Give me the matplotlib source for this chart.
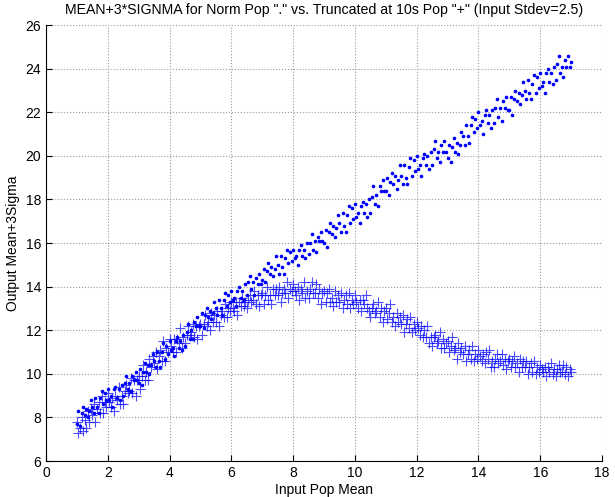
import numpy as np
import matplotlib
matplotlib.use('Agg')
import matplotlib.pyplot as plt

plt.rcParams['font.family'] = ['Liberation Sans', 'DejaVu Sans']

# input pop mean, step 0.05 from 1 to 17
x_vals = np.round(np.arange(1.0, 17.0001, 0.05), 2)

# "." series: normal population, mean+3sigma
norm_pop = [
    7.7, 8.3, 7.6, 8.2, 8.5, 8.1, 8.4, 8.0, 8.3, 8.8,
    8.5, 8.2, 8.9, 8.5, 8.2, 8.9, 9.2, 8.6, 9.1, 8.8,
    9.3, 8.8, 9.0, 8.5, 9.3, 9.4, 8.9, 9.3, 8.8, 9.5,
    9.0, 9.6, 9.9, 9.3, 9.6, 9.2, 9.9, 9.7, 10.1, 9.7,
    9.6, 10.2, 9.5, 10.1, 10.5, 10.1, 10.4, 10.0, 10.4, 10.9,
    10.6, 10.3, 11.0, 10.6, 10.3, 11.0, 11.4, 10.7, 11.3, 10.9,
    11.5, 11.1, 11.2, 10.8, 11.5, 11.7, 11.2, 11.5, 11.1, 11.8,
    11.3, 11.9, 12.3, 11.6, 12.0, 11.6, 12.4, 12.2, 12.6, 12.2,
    12.2, 12.8, 12.1, 12.7, 13.0, 12.6, 12.9, 12.5, 12.8, 13.3,
    13.0, 12.7, 13.4, 13.0, 12.7, 13.4, 13.7, 13.1, 13.6, 13.3,
    13.8, 13.4, 13.5, 13.1, 13.8, 14.0, 13.5, 13.8, 13.4, 14.1,
    13.6, 14.2, 14.5, 13.9, 14.2, 13.6, 14.4, 14.1, 14.6, 14.1,
    14.3, 14.8, 14.2, 14.7, 15.1, 14.6, 14.9, 14.5, 14.8, 15.4,
    15.0, 14.6, 15.4, 14.9, 14.6, 15.3, 15.7, 15.1, 15.6, 15.2,
    15.7, 15.3, 15.4, 15.0, 15.7, 15.9, 15.4, 15.7, 15.3, 16.0,
    15.5, 16.0, 16.4, 15.7, 16.1, 15.6, 16.3, 16.1, 16.5, 16.1,
    16.0, 16.6, 15.8, 16.5, 16.9, 16.4, 16.8, 16.3, 16.7, 17.3,
    16.9, 16.5, 17.4, 16.8, 16.5, 17.3, 17.7, 16.9, 17.6, 17.1,
    17.8, 17.2, 17.4, 16.9, 17.7, 17.9, 17.4, 17.8, 17.2, 18.0,
    17.4, 18.1, 18.6, 17.8, 18.2, 17.7, 18.6, 18.4, 18.9, 18.4,
    18.4, 19.0, 18.2, 18.8, 19.2, 18.7, 19.1, 18.5, 18.9, 19.6,
    19.1, 18.7, 19.6, 19.0, 18.7, 19.5, 19.9, 19.1, 19.8, 19.3,
    20.0, 19.4, 19.6, 19.1, 19.9, 20.1, 19.6, 20.0, 19.4, 20.2,
    19.6, 20.3, 20.7, 19.9, 20.2, 19.7, 20.5, 20.2, 20.7, 20.2,
    19.9, 20.5, 19.7, 20.4, 20.8, 20.2, 20.6, 20.1, 20.5, 21.1,
    20.9, 20.5, 21.4, 20.9, 20.6, 21.4, 21.8, 21.1, 21.7, 21.3,
    22.0, 21.4, 21.6, 21.0, 21.9, 22.1, 21.5, 21.9, 21.3, 22.1,
    21.5, 22.2, 22.6, 21.8, 22.2, 21.6, 22.5, 22.2, 22.7, 22.1,
    22.1, 22.7, 21.9, 22.6, 23.0, 22.5, 22.9, 22.4, 22.8, 23.4,
    23.0, 22.6, 23.5, 22.9, 22.6, 23.3, 23.7, 22.9, 23.6, 23.1,
    23.8, 23.2, 23.4, 22.9, 23.8, 24.0, 23.4, 23.8, 23.3, 24.1,
    23.5, 24.2, 24.6, 23.8, 24.1, 23.6, 24.4, 24.1, 24.6, 24.1,
    24.3,
]

# "+" series: population truncated at 10s
trunc_pop = [
    7.8, 7.3, 7.5, 8.0, 7.4, 7.9, 7.5, 8.3, 7.8, 8.4,
    8.1, 8.6, 7.8, 8.4, 8.7, 8.2, 9.0, 8.2, 8.7, 8.5,
    9.1, 8.7, 8.5, 8.9, 8.3, 9.0, 8.8, 9.4, 8.6, 9.0,
    8.6, 9.2, 9.5, 9.1, 9.2, 9.8, 9.1, 9.7, 9.0, 9.7,
    9.9, 9.3, 9.9, 10.4, 9.7, 10.1, 9.7, 10.7, 10.3, 10.8,
    10.5, 11.0, 10.2, 10.8, 11.1, 10.6, 11.5, 10.6, 11.2, 11.0,
    11.6, 11.3, 11.0, 11.6, 11.0, 11.6, 11.4, 12.1, 11.2, 11.7,
    11.4, 11.8, 12.2, 11.8, 11.9, 12.3, 11.7, 12.2, 11.6, 12.2,
    12.3, 11.8, 12.3, 12.7, 12.2, 12.4, 12.0, 12.8, 12.4, 12.7,
    12.4, 12.9, 12.2, 12.7, 12.9, 12.6, 13.2, 12.6, 13.0, 12.9,
    13.3, 13.0, 12.9, 13.3, 12.7, 13.3, 13.1, 13.5, 13.1, 13.3,
    13.0, 13.4, 13.6, 13.3, 13.4, 13.8, 13.2, 13.6, 13.1, 13.6,
    13.7, 13.2, 13.6, 14.0, 13.4, 13.6, 13.2, 13.9, 13.6, 13.9,
    13.6, 14.0, 13.3, 13.7, 13.9, 13.7, 14.2, 13.5, 13.9, 13.8,
    14.1, 13.8, 13.6, 14.0, 13.4, 13.9, 13.7, 14.2, 13.5, 13.8,
    13.5, 13.9, 14.2, 13.7, 13.7, 14.1, 13.5, 13.9, 13.2, 13.7,
    13.8, 13.3, 13.7, 13.9, 13.3, 13.5, 13.1, 13.8, 13.3, 13.6,
    13.3, 13.7, 13.0, 13.4, 13.6, 13.2, 13.7, 13.0, 13.4, 13.2,
    13.6, 13.3, 13.0, 13.4, 12.9, 13.4, 13.2, 13.6, 13.0, 12.9,
    12.6, 13.0, 13.2, 12.8, 12.9, 13.3, 12.6, 13.0, 12.4, 12.9,
    13.0, 12.5, 12.8, 13.2, 12.4, 12.6, 12.2, 12.8, 12.4, 12.6,
    12.3, 12.7, 11.9, 12.3, 12.5, 12.1, 12.6, 11.9, 12.3, 12.0,
    12.4, 12.1, 11.8, 12.2, 11.7, 12.0, 11.7, 12.2, 11.4, 11.7,
    11.3, 11.7, 11.8, 11.4, 11.5, 11.9, 11.2, 11.6, 11.2, 11.4,
    11.5, 11.0, 11.3, 11.7, 11.1, 11.2, 10.7, 11.4, 11.0, 11.2,
    10.9, 11.3, 10.6, 10.9, 11.1, 10.7, 11.3, 10.6, 10.9, 10.7,
    11.1, 10.8, 10.6, 10.9, 10.5, 11.0, 10.7, 11.1, 10.3, 10.6,
    10.3, 10.7, 10.9, 10.5, 10.6, 10.9, 10.4, 10.7, 10.2, 10.6,
    10.7, 10.3, 10.6, 10.8, 10.3, 10.5, 10.1, 10.7, 10.3, 10.6,
    10.3, 10.6, 10.0, 10.3, 10.5, 10.1, 10.6, 10.0, 10.3, 10.1,
    10.4, 10.2, 10.1, 10.3, 9.9, 10.3, 10.1, 10.5, 10.0, 10.2,
    9.9, 10.2, 10.4, 10.1, 10.1, 10.4, 10.0, 10.3, 9.9, 10.2,
    10.1,
]

fig = plt.figure(figsize=(6.15, 4.97), dpi=100)
ax = fig.add_axes([0.0748, 0.0724, 0.904, 0.877])

ax.plot(x_vals, norm_pop, '.', color=(0, 0, 1), markersize=3.2)
ax.plot(x_vals, trunc_pop, '+', color=(0, 0, 1), markersize=7, markeredgewidth=0.8, alpha=0.7)

ax.set_xlim(0, 18)
ax.set_ylim(6, 26)
ax.set_xticks(range(0, 19, 2))
ax.set_yticks(range(6, 27, 2))
ax.grid(True, linestyle=':', color='#9a9a9a', linewidth=0.8)
ax.set_axisbelow(True)
ax.tick_params(direction='in', length=4, labelsize=10, top=False, right=False)
ax.spines['top'].set_visible(False)
ax.spines['right'].set_visible(False)
ax.spines['left'].set_linewidth(0.8)
ax.spines['bottom'].set_linewidth(0.8)

ax.set_title('MEAN+3*SIGNMA for Norm Pop "." vs. Truncated at 10s Pop "+" (Input Stdev=2.5)',
             fontsize=10.2, pad=8)
ax.set_xlabel('Input Pop Mean', fontsize=10, labelpad=2)
ax.set_ylabel('Output Mean+3Sigma', fontsize=10, labelpad=4)

fig.savefig('out.png', dpi=100)
